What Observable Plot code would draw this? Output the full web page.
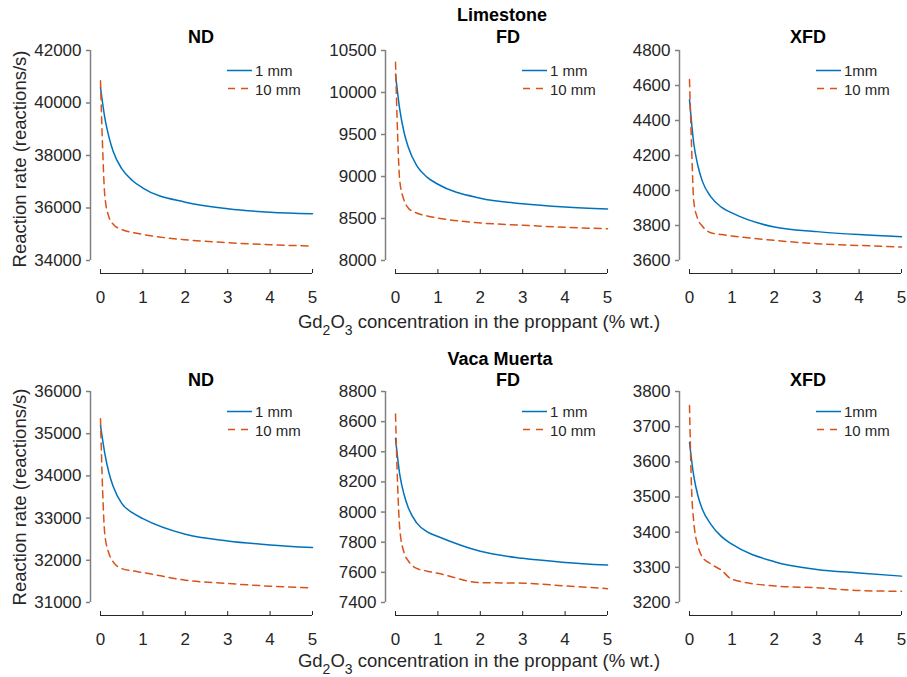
<!DOCTYPE html>
<html>
<head>
<meta charset="utf-8">
<script src="https://cdn.jsdelivr.net/npm/d3@7"></script>
<script src="https://cdn.jsdelivr.net/npm/@observablehq/plot@0.6"></script>
<style>
  body { margin: 0; background: #fff; }
  #root { position: relative; width: 907px; height: 677px; font-family: "Liberation Sans", Arial, Helvetica, sans-serif; color: #262626; overflow: hidden; }
  .abs { position: absolute; white-space: nowrap; }
  .ttl { font-weight: bold; font-size: 18px; color: #000; transform: translate(-50%, -50%); line-height: 1; }
  .xl { font-size: 18.5px; transform: translate(-50%, -50%); line-height: 1; }
  .yl { font-size: 18.5px; transform: translate(-50%, -50%) rotate(-90deg); line-height: 1; }
  .leg { font-size: 15px; display: flex; align-items: center; transform: translateY(-50%); }
  .leg svg { margin-right: 3px; }
  sub { font-size: 14px; vertical-align: -7px; line-height: 0; }
</style>
</head>
<body>
<div id="root"></div>
<script>
// ---- data ----
const rocks = ["Limestone", "Vaca Muerta"];
const detectors = ["ND", "FD", "XFD"];
const seriesNames = ["1 mm", "10 mm"];
const xTicks = [0, 1, 2, 3, 4, 5];
const x1mm = [0, 0.1, 0.2, 0.3, 0.5, 0.75, 1, 2, 3, 4, 5];
const x10mm = [0, 0.05, 0.1, 0.2, 0.3, 0.5, 0.75, 1, 2, 3, 4, 5];

const limeND_1 = [40600, 39450, 38700, 38150, 37500, 37050, 36760, 36220, 35970, 35840, 35780];
const limeND_10 = [40850, 38300, 36500, 35650, 35380, 35180, 35070, 34990, 34790, 34680, 34600, 34550];
const limeFD_1 = [10216, 9800, 9530, 9350, 9130, 8990, 8908, 8742, 8675, 8636, 8612];
const limeFD_10 = [10360, 9500, 8950, 8720, 8625, 8565, 8530, 8505, 8447, 8420, 8395, 8378];
const limeXFD_1 = [4519, 4270, 4140, 4055, 3965, 3905, 3872, 3791, 3765, 3748, 3736];
const limeXFD_10 = [4634, 4246, 3940, 3835, 3797, 3759, 3748, 3740, 3715, 3696, 3686, 3677];

const vmND_1 = [35196, 34540, 34070, 33750, 33350, 33130, 32987, 32617, 32459, 32364, 32301];
const vmND_10 = [35353, 33658, 32632, 32159, 31962, 31804, 31750, 31710, 31528, 31450, 31387, 31347];
const vmFD_1 = [8489, 8250, 8118, 8030, 7928, 7868, 7838, 7740, 7693, 7666, 7648];
const vmFD_10 = [8650, 8180, 7890, 7733, 7677, 7626, 7608, 7594, 7532, 7528, 7510, 7492];
const vmXFD_1 = [3655, 3560, 3503, 3466, 3423, 3388, 3366, 3316, 3294, 3284, 3275];
const vmXFD_10 = [3760, 3520, 3430, 3360, 3330, 3310, 3292, 3266, 3247, 3242, 3234, 3232];

const yTicksLimeND = [34000, 36000, 38000, 40000, 42000];
const yTicksLimeFD = [8000, 8500, 9000, 9500, 10000, 10500];
const yTicksLimeXFD = [3600, 3800, 4000, 4200, 4400, 4600, 4800];
const yTicksVmND = [31000, 32000, 33000, 34000, 35000, 36000];
const yTicksVmFD = [7400, 7600, 7800, 8000, 8200, 8400, 8600, 8800];
const yTicksVmXFD = [3200, 3300, 3400, 3500, 3600, 3700, 3800];

const legendLabels = [["1 mm", "10 mm"], ["1 mm", "10 mm"], ["1mm", "10 mm"]];
const xLabelParts = ["Gd", "2", "O", "3", " concentration in the proppant (% wt.)"];
const yLabel = "Reaction rate (reactions/s)";

const panels = [
  [[limeND_1, limeND_10, yTicksLimeND], [limeFD_1, limeFD_10, yTicksLimeFD], [limeXFD_1, limeXFD_10, yTicksLimeXFD]],
  [[vmND_1, vmND_10, yTicksVmND], [vmFD_1, vmFD_10, yTicksVmFD], [vmXFD_1, vmXFD_10, yTicksVmXFD]]
];

// ---- layout ----
const BLUE = "#0072BD", ORANGE = "#D95319";
const colSvgLeft = [0, 310, 605], colMarginLeft = [100, 85, 84], colWidth = [320, 305, 302];
const rowSvgTop = [40, 381], rowPlotH = [210, 211];
const titleX = [201, 508, 808];
const root = document.getElementById("root");

function div(cls, html, left, top) {
  const d = document.createElement("div");
  d.className = "abs " + cls;
  d.innerHTML = html;
  d.style.left = left + "px";
  d.style.top = top + "px";
  root.appendChild(d);
  return d;
}

for (let r = 0; r < 2; r++) {
  for (let c = 0; c < 3; c++) {
    const [s1, s10, yt] = panels[r][c];
    const data = [
      ...x1mm.map((x, i) => ({x, y: s1[i], s: seriesNames[0]})),
      ...x10mm.map((x, i) => ({x, y: s10[i], s: seriesNames[1]}))
    ];
    const ymin = yt[0], ymax = yt[yt.length - 1];
    const plot = Plot.plot({
      width: colWidth[c],
      height: 10 + rowPlotH[r] + 50,
      marginLeft: colMarginLeft[c],
      marginRight: colWidth[c] - colMarginLeft[c] - 212,
      marginTop: 10,
      marginBottom: 50,
      style: {fontFamily: '"Liberation Sans", Arial, Helvetica, sans-serif', fontSize: "17px", color: "#262626", background: "transparent", overflow: "visible"},
      x: {domain: [0, 5]},
      y: {domain: [ymin, ymax]},
      marks: [
        // y axis line (offset left)
        Plot.ruleX([0], {y1: ymin, y2: ymax, dx: -10, stroke: "#808080", strokeWidth: 1.5}),
        Plot.axisY({ticks: yt, tickSize: 4, dx: -10, tickPadding: 5, tickFormat: d => String(d), label: null, stroke: "#808080", fill: "#262626", strokeWidth: 1.5}),
        // x axis line (offset down), ticks pointing up
        Plot.ruleY([ymin], {x1: 0, x2: 5, dy: 13, stroke: "#262626", strokeWidth: 1}),
        Plot.axisX({ticks: xTicks, tickSize: 4, dy: 9, tickPadding: 17, tickFormat: d => String(d), label: null, stroke: "#262626", fill: "#262626"}),
        Plot.line(data.filter(d => d.s === seriesNames[0]), {x: "x", y: "y", stroke: BLUE, strokeWidth: 1.5, curve: "monotone-x"}),
        Plot.line(data.filter(d => d.s === seriesNames[1]), {x: "x", y: "y", stroke: ORANGE, strokeWidth: 1.5, strokeDasharray: "7,5", curve: "monotone-x"})
      ]
    });
    plot.style.position = "absolute";
    plot.style.left = colSvgLeft[c] + "px";
    plot.style.top = rowSvgTop[r] + "px";
    root.appendChild(plot);

    const plotLeft = colSvgLeft[c] + colMarginLeft[c];
    const plotTop = rowSvgTop[r] + 10;
    // legend
    const labs = legendLabels[c];
    div("leg", `<svg width="25" height="4"><line x1="0" y1="2" x2="25" y2="2" stroke="${BLUE}" stroke-width="1.5"/></svg>${labs[0]}`, plotLeft + 127, plotTop + 20);
    div("leg", `<svg width="25" height="4"><line x1="1" y1="2" x2="25" y2="2" stroke="${ORANGE}" stroke-width="1.5" stroke-dasharray="7,6"/></svg>${labs[1]}`, plotLeft + 127, plotTop + 38.5);
    // panel title
    div("ttl", detectors[c], titleX[c], r === 0 ? 37 : 379.5);
  }
  // rock title
  div("ttl", rocks[r], r === 0 ? 502 : 500, r === 0 ? 15 : 358.5);
  // x label
  div("xl", `${xLabelParts[0]}<sub>${xLabelParts[1]}</sub>${xLabelParts[2]}<sub>${xLabelParts[3]}</sub>${xLabelParts[4]}`, 479, r === 0 ? 322 : 661);
  // y label
  div("yl", yLabel, 20, r === 0 ? 159 : 497);
}
</script>
</body>
</html>
